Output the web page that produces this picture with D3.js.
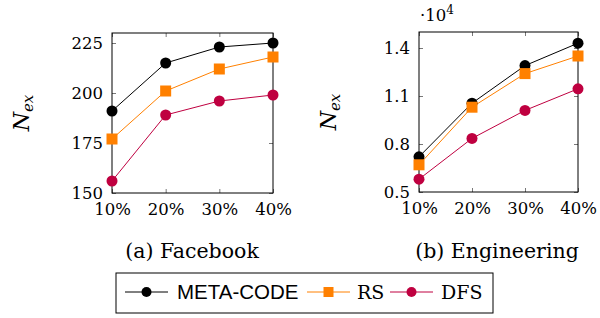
<!DOCTYPE html>
<html><head><meta charset="utf-8">
<script src="https://cdn.jsdelivr.net/npm/d3@7"></script>
<style>body{margin:0;background:#fff}svg{display:block}</style>
</head><body>
<script>
const categories = ["10%","20%","30%","40%"];
const xValues = [10,20,30,40];
const seriesNames = ["META-CODE","RS","DFS"];
const fbMeta = [191,215,223,225];
const fbRS = [177,201,212,218];
const fbDFS = [156,189,196,199];
const fbTicks = [150,175,200,225];
const engMeta = [0.72,1.055,1.29,1.43];
const engRS = [0.67,1.03,1.24,1.35];
const engDFS = [0.58,0.835,1.01,1.145];
const engTicks = [0.5,0.8,1.1,1.4];
const colors = ["#000000","#ff8000","#bf0040"];
const shapes = ["circle","square","circle"];

const W=600,H=318;
const svg=d3.select("body").append("svg").attr("width",W).attr("height",H);
const serif="DejaVu Serif";
const sans="Liberation Sans";

function marker(g,shape,x,y,color,s){
  if(shape==="square"){
    g.append("rect").attr("x",x-s).attr("y",y-s).attr("width",2*s).attr("height",2*s).attr("fill",color);
  } else {
    g.append("circle").attr("cx",x).attr("cy",y).attr("r",s).attr("fill",color);
  }
}

function panel(opt){
  const x=d3.scaleLinear().domain([10,40]).range([opt.x0,opt.x1]);
  const y=d3.scaleLinear().domain(opt.domain).range([opt.y1,opt.y0]);
  const g=svg.append("g");
  const ax=g.append("g").attr("transform",`translate(0,${opt.y1})`)
    .call(d3.axisBottom(x).tickValues(xValues).tickFormat((d,i)=>categories[i]).tickSizeInner(-4).tickSizeOuter(0).tickPadding(22));
  const axT=g.append("g").attr("transform",`translate(0,${opt.y0})`)
    .call(d3.axisTop(x).tickValues(xValues).tickFormat("").tickSizeInner(-4).tickSizeOuter(0));
  const ay=g.append("g").attr("transform",`translate(${opt.x0},0)`)
    .call(d3.axisLeft(y).tickValues(opt.ticks).tickFormat(opt.fmt).tickSizeInner(-4).tickSizeOuter(0).tickPadding(9));
  const ayR=g.append("g").attr("transform",`translate(${opt.x1},0)`)
    .call(d3.axisRight(y).tickValues(opt.ticks).tickFormat("").tickSizeInner(-4).tickSizeOuter(0));
  [ax,axT,ay,ayR].forEach(a=>{a.attr("font-family",null).attr("font-size",null);a.select(".domain").remove();a.selectAll("line").attr("stroke","#555").attr("stroke-width",0.8);});
  [ax,ay].forEach(a=>a.selectAll("text").style("font-family",serif).style("font-size","16.5px").attr("fill","#000"));
  ax.selectAll("text").attr("dy","0");
  g.append("rect").attr("x",opt.x0).attr("y",opt.y0).attr("width",opt.x1-opt.x0).attr("height",opt.y1-opt.y0)
    .attr("fill","none").attr("stroke","#000").attr("stroke-width",1);
  const line=d3.line().x((d,i)=>x(xValues[i])).y(d=>y(d));
  opt.series.forEach((s,k)=>{
    g.append("path").attr("d",line(s)).attr("fill","none").attr("stroke",colors[k]).attr("stroke-width",1);
  });
  opt.series.forEach((s,k)=>{
    s.forEach((v,i)=>marker(g,shapes[k],x(xValues[i]),y(v),colors[k],5.5));
  });
  g.append("text").attr("transform",`translate(${opt.lx},${(opt.y0+opt.y1)/2}) rotate(-90)`)
    .attr("text-anchor","middle").style("font-family",serif).style("font-size","22px").attr("font-style","italic")
    .html('N<tspan style="font-size:15px" dy="4">ex</tspan>');
  g.append("text").attr("x",opt.cx).attr("y",258).attr("text-anchor","middle")
    .style("font-family",serif).style("font-size","20.5px").text(opt.caption);
}

panel({x0:112,x1:273,y0:33,y1:193,domain:[150,230],ticks:fbTicks,fmt:d3.format("d"),
  series:[fbMeta,fbRS,fbDFS],lx:29,cx:192,caption:"(a) Facebook"});
panel({x0:419,x1:578,y0:32,y1:192,domain:[0.5,1.5],ticks:engTicks,fmt:d3.format(".1f"),
  series:[engMeta,engRS,engDFS],lx:336,cx:497,caption:"(b) Engineering"});

svg.append("text").attr("x",420).attr("y",21).style("font-family",serif).style("font-size","16.5px")
  .html('·10<tspan style="font-size:12px" dy="-7">4</tspan>');

// legend
const lg=svg.append("g");
lg.append("rect").attr("x",116).attr("y",273).attr("width",377).attr("height",40).attr("fill","#fff").attr("stroke","#000").attr("stroke-width",1);
const items=[{x:125,tx:177,font:sans,size:"20.5px"},{x:307,tx:357,font:serif,size:"19px"},{x:390,tx:441,font:serif,size:"19px"}];
items.forEach((it,k)=>{
  const yy=292;
  lg.append("line").attr("x1",it.x).attr("x2",it.x+43).attr("y1",yy).attr("y2",yy).attr("stroke",colors[k]).attr("stroke-width",1);
  marker(lg,shapes[k],it.x+21.5,yy,colors[k],5);
  lg.append("text").attr("x",it.tx).attr("y",yy+7).style("font-family",it.font).style("font-size",it.size).text(seriesNames[k]);
});
</script>
</body></html>
